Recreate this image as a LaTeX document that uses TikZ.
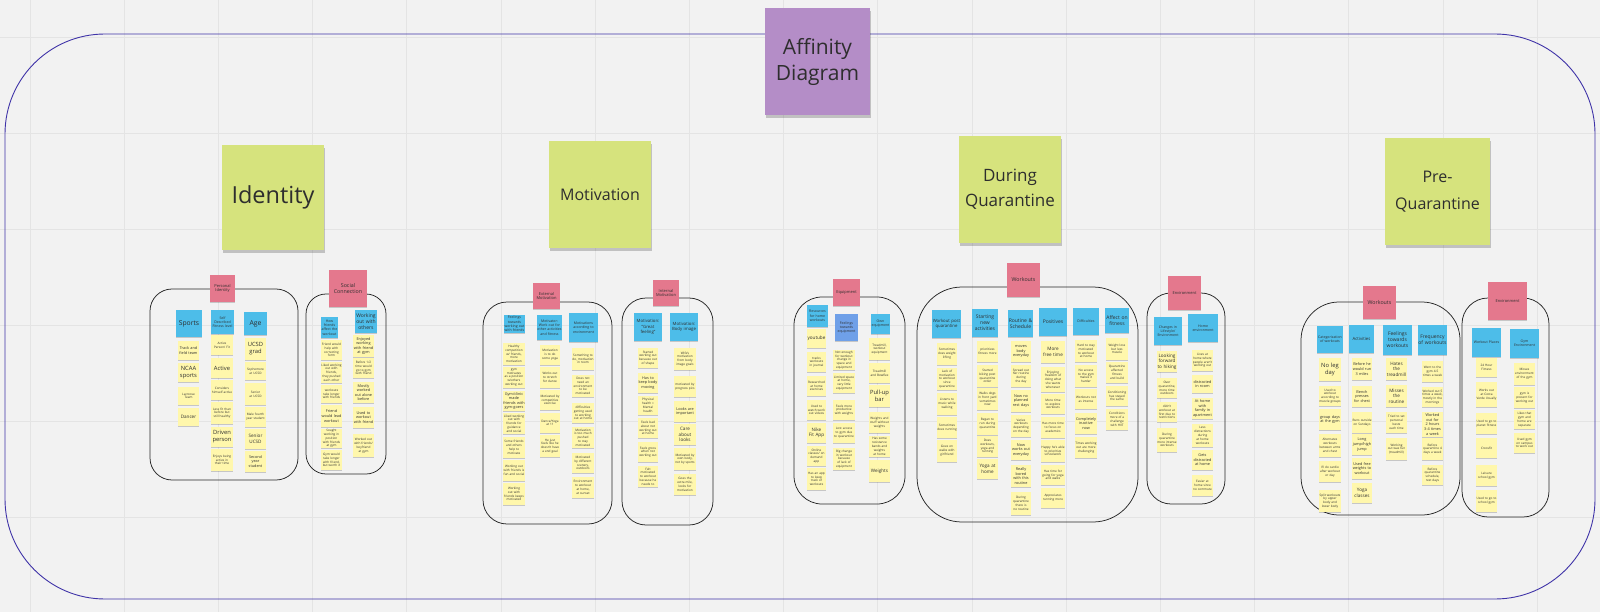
\documentclass[tikz,border=0pt]{standalone}
\usepackage{fontspec}
\setmainfont{Open Sans}
\usetikzlibrary{shadows}
\definecolor{bgc}{HTML}{F2F2F2}
\definecolor{gridc}{HTML}{E4E4E4}
\definecolor{framec}{HTML}{3F33A8}
\definecolor{yelc}{HTML}{FFF7AC}
\definecolor{bluc}{HTML}{4DBDE9}
\definecolor{vioc}{HTML}{6FA0E8}
\definecolor{pnkc}{HTML}{E4788D}
\definecolor{limc}{HTML}{D6E37D}
\definecolor{purc}{HTML}{B48DC7}
\definecolor{inkc}{HTML}{2E2E2E}
\tikzset{
  stick/.style={inner sep=0.3pt, align=center, text=inkc,
    execute at begin node={\hyphenpenalty=10000\exhyphenpenalty=10000},
    drop shadow={shadow xshift=0.2pt, shadow yshift=-1.1pt, opacity=0.18, fill=black}},
  yn/.style={stick, fill=yelc, font=\fontsize{3.1}{3.8}\selectfont},
  ys/.style={stick, fill=yelc, font=\fontsize{3.8}{4.6}\selectfont},
  ym/.style={stick, fill=yelc, font=\fontsize{4.6}{5.5}\selectfont},
  yb/.style={stick, fill=yelc, font=\fontsize{5.8}{6.9}\selectfont},
  bn/.style={stick, fill=bluc, font=\fontsize{3.5}{4.3}\selectfont},
  bs/.style={stick, fill=bluc, font=\fontsize{4.3}{5.2}\selectfont},
  bm/.style={stick, fill=bluc, font=\fontsize{5}{6}\selectfont},
  bb/.style={stick, fill=bluc, font=\fontsize{6.8}{8}\selectfont},
  pn/.style={stick, fill=pnkc, font=\fontsize{4}{4.9}\selectfont},
  pm/.style={stick, fill=pnkc, font=\fontsize{5.3}{6.4}\selectfont},
  topic/.style={inner sep=0pt, align=center, text=inkc, fill=limc,
    drop shadow={shadow xshift=0.5pt, shadow yshift=-3pt, opacity=0.2, fill=black}},
  grp/.style={draw=black!85, line width=0.75pt},
  gridline/.style={draw=gridc, line width=0.8pt},
}
\newcommand{\stk}[7][yn]{%
  \pgfmathsetmacro\stkW{#5-#3}%
  \pgfmathsetmacro\stkH{#6-#4}%
  \pgfmathsetmacro\stkX{(#3+#5)/2}%
  \pgfmathsetmacro\stkY{(#4+#6)/2}%
  \pgfmathsetmacro\stkT{#5-#3-0.6}%
  \node[#1, minimum width=\stkW pt, minimum height=\stkH pt, text width=\stkT pt] (#2) at (\stkX,\stkY) {#7};%
}
\begin{document}
\begin{tikzpicture}[x=1pt,y=-1pt]
\useasboundingbox (0,0) rectangle (1600,612);
\fill[bgc] (0,0) rectangle (1600,612);
% grid
\foreach \gx in {30,124.2,...,1600} \draw[gridline] (\gx,0) -- (\gx,612);
\foreach \gy in {37,133,...,612} \draw[gridline] (0,\gy) -- (1600,\gy);
% big frame
\draw[framec, line width=0.9pt, rounded corners=100pt] (5,34) rectangle (1595,599);

% group frames
\draw[grp, rounded corners=22pt] (150,289) rectangle (298,480);
\draw[grp, rounded corners=20pt] (306,294) rectangle (386,474);
\draw[grp, rounded corners=24pt] (483,302) rectangle (612,524);
\draw[grp, rounded corners=24pt] (622,298) rectangle (713,525);
\draw[grp, rounded corners=28pt] (794,297) rectangle (905,504);
\draw[grp, rounded corners=45pt] (917,287) rectangle (1138,522);
\draw[grp, rounded corners=24pt] (1147,293) rectangle (1225,504);
\draw[grp, rounded corners=38pt] (1301,302) rectangle (1460,515);
\draw[grp, rounded corners=26pt] (1462,298) rectangle (1549,517);

% title and topics
\node[topic, fill=purc, minimum width=105pt, minimum height=107pt, font=\fontsize{21}{26}\selectfont] (ad) at (817.5,61.5) {Affinity\\Diagram};
\node[topic, minimum width=102pt, minimum height=105pt, font=\fontsize{23.5}{28}\selectfont] (idt) at (273,197.5) {Identity};
\node[topic, minimum width=102pt, minimum height=107pt, font=\fontsize{16}{20}\selectfont] (mot) at (600,194.5) {Motivation};
\node[topic, minimum width=102pt, minimum height=107pt, font=\fontsize{17}{25}\selectfont] (dq) at (1010,189.5) {During\\Quarantine};
\node[topic, minimum width=105pt, minimum height=107pt, font=\fontsize{16}{27}\selectfont] (pq) at (1437.5,191.5) {Pre-\\Quarantine};

% ---------- Personal Identity ----------
\stk[pn]{pi}{210}{275}{235}{302}{Personal Identity}
\stk[bb]{sports}{176}{310}{202}{337}{Sports}
\stk[bn]{sdf}{211}{310}{234}{334}{Self Described Fitness level}
\stk[bb]{age}{244}{312}{267}{335}{Age}
\stk[ys]{sp1}{178}{341}{199}{360}{Track and field team}
\stk[yb]{sp2}{178}{363}{199}{382}{NCAA sports}
\stk[yn]{sp3}{178}{387}{199}{405}{Lacrosse Team}
\stk[ym]{sp4}{178}{408}{199}{426}{Dancer}
\stk[yn]{sd1}{211}{335}{233}{355}{Active Person/ Fit}
\stk[yb]{sd2}{211}{358}{233}{378}{Active}
\stk[yn]{sd3}{211}{380}{233}{400}{Considers himself active}
\stk[yn]{sd4}{211}{402}{233}{424}{Less fit than before but still healthy}
\stk[yb]{sd5}{211}{427}{233}{447}{Driven person}
\stk[yn]{sd6}{211}{449}{233}{471}{Enjoys being active in their time}
\stk[yb]{ag1}{245}{338}{266}{360}{UCSD grad}
\stk[yn]{ag2}{245}{362}{266}{380}{Sophomore at UCSD}
\stk[yn]{ag3}{245}{383}{266}{405}{Senior at UCSD}
\stk[yn]{ag4}{245}{407}{266}{427}{Male fourth year student}
\stk[ym]{ag5}{245}{429}{266}{449}{Senior UCSD}
\stk[ys]{ag6}{245}{451}{266}{472}{Second year student}

% ---------- Social Connection ----------
\stk[pm]{sc}{329}{270}{367}{307}{Social\\Connection}
\stk[bn]{hf}{321}{317}{338}{338}{How friends affect the workout}
\stk[bm]{wo}{355}{310}{377}{333}{Working out with others}
\stk[yn]{hf1}{321}{340}{342}{360}{Friend would help with correcting form}
\stk[yn]{hf2}{321}{362}{342}{383}{Liked working out with friends, they pushed each other}
\stk[yn]{hf3}{321}{385}{342}{403}{workouts take longer with friends}
\stk[ys]{hf4}{321}{405}{342}{427}{Friend would lead workout}
\stk[yn]{hf5}{321}{429}{342}{448}{Sought working in position with friends at gym}
\stk[yn]{hf6}{321}{450}{342}{470}{Gym would take longer with friend, but worth it}
\stk[ys]{wo1}{353}{335}{374}{357}{Enjoyed working with friend at gym}
\stk[yn]{wo2}{353}{358}{374}{378}{Before 1/2 time would go to gym with friend}
\stk[ys]{wo3}{353}{382}{374}{403}{Mostly worked out alone before}
\stk[ys]{wo4}{353}{407}{374}{428}{Used to workout with friend}
\stk[yn]{wo5}{353}{434}{374}{457}{Worked out with friends/ boyfriend at gym}

% ---------- External Motivation ----------
\stk[pn]{em}{533}{283}{560}{309}{External Motivation}
\stk[bn]{ft}{504}{315}{525}{333}{Feelings towards working out with friends}
\stk[bn]{mw}{537}{315}{562}{340}{Motivator: Work out for other activities and fitness}
\stk[bn]{ma}{569}{313}{598}{342}{Motivations according to environment}
\stk[yn]{ft1}{503}{343}{525}{365}{Healthy competition w/ friends, more motivation}
\stk[yn]{ft2}{503}{367}{525}{388}{gym motivates as a position w/others working out}
\stk[ys]{ft3}{503}{391}{525}{411}{Gym/clinic made friends with gym-goers}
\stk[yn]{ft4}{503}{413}{525}{434}{Liked working out with friends for guidance and social}
\stk[yn]{ft5}{503}{437}{525}{458}{Some friends and others help to motivate}
\stk[yn]{ft6}{503}{460}{525}{481}{Working out with friends is fun and social}
\stk[yn]{ft7}{503}{483}{525}{505}{Working out with friends keeps motivated}
\stk[yn]{mw1}{540}{345}{560}{365}{Motivation is to do some yoga}
\stk[yn]{mw2}{540}{367}{560}{388}{Works out to stretch for dance}
\stk[yn]{mw3}{540}{390}{560}{410}{Motivated by competitive exercise}
\stk[yn]{mw4}{540}{413}{560}{433}{Dance/Yoga at 11}
\stk[yn]{mw5}{540}{435}{560}{457}{He just feels like he doesn't have a end goal}
\stk[yn]{ma1}{572}{348}{594}{370}{Something to do, motivation in room}
\stk[yn]{ma2}{572}{375}{594}{397}{Does not need an environment to be motivated}
\stk[yn]{ma3}{572}{403}{594}{423}{difficulties getting used to working out at home}
\stk[yn]{ma4}{572}{427}{594}{448}{Motivation is too much pushed to stay motivated}
\stk[yn]{ma5}{572}{453}{594}{473}{Motivated by different scenery, outdoors}
\stk[yn]{ma6}{572}{477}{594}{498}{Environment to workout at home, at sunset}

% ---------- Internal Motivation ----------
\stk[pn]{im}{653}{280}{679}{306}{Internal Motivation}
\stk[bs]{mg}{634}{313}{662}{341}{Motivation: ``Great feeling''}
\stk[bs]{mb}{670}{313}{698}{341}{Motivation: Body image}
\stk[yn]{mg1}{638}{348}{658}{368}{Started working out because out of shape}
\stk[ys]{mg2}{638}{373}{658}{393}{Has to keep body moving}
\stk[yn]{mg3}{638}{396}{658}{415}{Physical health = Mental health}
\stk[yn]{mg4}{638}{418}{658}{438}{Feels bad about not working out at home}
\stk[yn]{mg5}{638}{442}{658}{462}{Feels gross when not working out}
\stk[yn]{mg6}{638}{466}{658}{487}{Felt motivated to workout because he needs to}
\stk[yn]{mb1}{674}{348}{696}{370}{Wife's motivation from body image goals}
\stk[yn]{mb2}{674}{376}{696}{397}{motivated by progress pics}
\stk[ys]{mb3}{674}{401}{696}{422}{Looks are important}
\stk[ym]{mb4}{674}{424}{696}{445}{Care about looks}
\stk[yn]{mb5}{674}{448}{696}{470}{Motivated by own body, not by sports}
\stk[yn]{mb6}{674}{474}{696}{495}{Goes the extra mile, looks for motivation}

% ---------- Equipment ----------
\stk[pn]{eq}{833}{279}{860}{306}{Equipment}
\stk[bn]{rh}{807}{305}{828}{327}{Resources for home workouts}
\node[stick, fill=vioc, minimum width=23pt, minimum height=27pt, text width=22.4pt, font=\fontsize{3.5}{4.3}\selectfont] (fe) at (846.5,327.5) {Feelings towards equipment};
\stk[bn]{oe}{871}{314}{890}{334}{Own equipment}
\stk[ym]{rh1}{807}{329}{826}{348}{youtube}
\stk[yn]{rh2}{807}{352}{826}{372}{tracks workouts in journal}
\stk[yn]{rh3}{807}{376}{826}{396}{Researched at home exercises}
\stk[yn]{rh4}{807}{400}{826}{420}{Used to watch work out videos}
\stk[ym]{rh5}{807}{423}{826}{443}{Nike Fit App}
\stk[yn]{rh6}{807}{446}{826}{466}{Online classes/ on demand app}
\stk[yn]{rh7}{807}{468}{826}{490}{Has an app to keep track of workouts}
\stk[yn]{fe1}{833}{350}{855}{370}{Not enough for workout change in space and equipment}
\stk[yn]{fe2}{833}{373}{855}{393}{Limited space at home, very little equipment}
\stk[yn]{fe3}{833}{400}{855}{420}{Feels more productive with weights}
\stk[yn]{fe4}{833}{423}{855}{443}{Lost access to gym due to quarantine}
\stk[yn]{fe5}{833}{448}{855}{470}{Big change in workout because of lack of equipment}
\stk[yn]{oe1}{869}{338}{890}{360}{Treadmill, workout equipment}
\stk[yn]{oe2}{869}{363}{890}{383}{Treadmill and Bowflex}
\stk[yb]{oe3}{869}{385}{890}{407}{Pull-up bar}
\stk[yn]{oe4}{869}{412}{890}{433}{Weights and stuff without weights}
\stk[yn]{oe5}{869}{436}{890}{457}{Has some resistance bands and weights at home}
\stk[ym]{oe6}{869}{460}{890}{482}{Weights}

% ---------- Workouts (During) ----------
\stk[pm]{wd}{1007}{263}{1040}{297}{Workouts}
\stk[bs]{wpq}{932}{310}{961}{338}{Workout post quarantine}
\stk[bm]{sna}{972}{309}{998}{337}{Starting new activities}
\stk[bm]{rs}{1008}{310}{1033}{337}{Routine \& Schedule}
\stk[bm]{pos}{1039}{308}{1067}{336}{Positives}
\stk[bn]{dif}{1073}{308}{1099}{335}{Difficulties}
\stk[bm]{aff}{1105}{308}{1129}{333}{Affect on fitness}
\stk[yn]{wq1}{937}{343}{957}{365}{Sometimes does weight lifting}
\stk[yn]{wq2}{937}{368}{957}{390}{Lack of motivation to workout since quarantine}
\stk[yn]{wq3}{937}{393}{957}{415}{Listens to music while walking}
\stk[yn]{wq4}{937}{417}{957}{438}{Sometimes does running}
\stk[yn]{wq5}{937}{440}{957}{462}{Goes on walks with girlfriend}
\stk[yn]{sn1}{977}{341}{998}{362}{prioritizes fitness more}
\stk[yn]{sn2}{977}{365}{998}{387}{Started biking post quarantine order}
\stk[yn]{sn3}{977}{388}{998}{410}{Walks dogs in front yard sometimes now}
\stk[yn]{sn4}{977}{413}{998}{435}{Began to run during quarantine}
\stk[yn]{sn5}{977}{436}{998}{457}{Does workouts, yoga and running}
\stk[ym]{sn6}{977}{459}{998}{479}{Yoga at home}
\stk[ys]{rs1}{1011}{341}{1031}{362}{moves body everyday}
\stk[yn]{rs2}{1011}{365}{1031}{387}{Spread out her routine during the day}
\stk[ys]{rs3}{1011}{390}{1031}{412}{Now no planned rest days}
\stk[yn]{rs4}{1011}{415}{1031}{437}{Varies workouts depending on the day}
\stk[ys]{rs5}{1011}{440}{1031}{460}{Now works out everyday}
\stk[ys]{rs6}{1011}{465}{1031}{487}{Really bored with this routine}
\stk[yn]{rs7}{1011}{492}{1031}{515}{During quarantine there is no routine}
\stk[ym]{po1}{1041}{341}{1065}{363}{More free time}
\stk[yn]{po2}{1041}{367}{1065}{392}{Enjoying freedom of doing what she wants whenever}
\stk[yn]{po3}{1041}{394}{1065}{414}{More time to explore workouts}
\stk[yn]{po4}{1041}{417}{1065}{438}{Has more time to focus on academics}
\stk[yn]{po5}{1041}{440}{1065}{462}{Happy he's able to prioritize schoolwork}
\stk[yn]{po6}{1041}{465}{1065}{485}{Has time for going for yoga and walks}
\stk[yn]{po7}{1041}{488}{1065}{508}{Appreciates running more}
\stk[yn]{di1}{1075}{340}{1097}{362}{Hard to stay motivated to workout at home}
\stk[yn]{di2}{1075}{365}{1097}{387}{No access to the gym makes it harder}
\stk[yn]{di3}{1075}{389}{1097}{409}{Workouts not as intense}
\stk[ys]{di4}{1075}{413}{1097}{434}{Completely inactive now}
\stk[yn]{di5}{1075}{437}{1097}{458}{Times working out are more challenging}
\stk[yn]{af1}{1106}{338}{1128}{360}{Weight loss but less muscle}
\stk[yn]{af2}{1106}{362}{1128}{383}{Quarantine affected fitness and build}
\stk[yn]{af3}{1106}{386}{1128}{406}{Conditioning has stayed the same}
\stk[yn]{af4}{1106}{409}{1128}{430}{Conditions more of a challenge with HIIT}

% ---------- Environment (During) ----------
\stk[pn]{ed}{1168}{276}{1201}{310}{Environment}
\stk[bn]{cl}{1154}{317}{1182}{345}{Changes in Lifestyle/ Environment}
\stk[bn]{hen}{1188}{314}{1218}{342}{Home environment}
\stk[ym]{cl1}{1157}{351}{1177}{372}{Looking forward to hiking}
\stk[yn]{cl2}{1157}{378}{1177}{398}{Over quarantine, more time outdoors}
\stk[yn]{cl3}{1157}{402}{1177}{422}{didn't workout at first due to restrictions}
\stk[yn]{cl4}{1157}{428}{1177}{452}{During quarantine more intense workouts}
\stk[yn]{he1}{1192}{350}{1213}{371}{Lives at home where people aren't working out}
\stk[ys]{he2}{1192}{375}{1213}{393}{distracted in room}
\stk[ys]{he3}{1192}{398}{1213}{419}{At home with family in apartment}
\stk[yn]{he4}{1192}{424}{1213}{447}{Less distractions during at home workouts}
\stk[ys]{he5}{1192}{450}{1213}{470}{Gets distracted at home}
\stk[yn]{he6}{1192}{475}{1213}{496}{Easier at home since no commute}

% ---------- Workouts (Pre) ----------
\stk[pm]{wpre}{1363}{286}{1396}{319}{Workouts}
\stk[bn]{cw}{1317}{326}{1343}{353}{Categorization of workouts}
\stk[bs]{act}{1349}{325}{1374}{353}{Activities}
\stk[bm]{fw}{1383}{325}{1412}{355}{Feelings towards workouts}
\stk[bm]{fq}{1418}{325}{1447}{355}{Frequency of workouts}
\stk[yb]{cw1}{1319}{358}{1341}{381}{No leg day}
\stk[yn]{cw2}{1319}{386}{1341}{406}{Used to workout according to muscle groups}
\stk[ys]{cw3}{1319}{409}{1341}{430}{group days at the gym}
\stk[yn]{cw4}{1319}{434}{1341}{457}{Alternates workouts between arms and chest}
\stk[yn]{cw5}{1319}{461}{1341}{482}{I'll do cardio after workout or day}
\stk[yn]{cw6}{1319}{490}{1341}{512}{Split workouts by upper body and lower body}
\stk[ys]{ac1}{1352}{358}{1372}{380}{Before he would run 3 miles}
\stk[ys]{ac2}{1352}{386}{1372}{407}{Bench presses for chest}
\stk[yn]{ac3}{1352}{412}{1372}{433}{Runs outside on Sundays}
\stk[ys]{ac4}{1352}{434}{1372}{455}{Long jump/high jump}
\stk[ys]{ac5}{1352}{458}{1372}{479}{Used free weights to workout}
\stk[ym]{ac6}{1352}{483}{1372}{503}{Yoga classes}
\stk[ym]{fw1}{1386}{358}{1407}{380}{Hates the treadmill}
\stk[ym]{fw2}{1386}{385}{1407}{407}{Misses the routine}
\stk[yn]{fw3}{1386}{412}{1407}{433}{Tried to set personal bests each time}
\stk[yn]{fw4}{1386}{438}{1407}{460}{Working out was fun (treadmill)}
\stk[yn]{fq1}{1422}{361}{1443}{382}{Went to the gym 4-5 times a week}
\stk[yn]{fq2}{1422}{387}{1443}{407}{Worked out 5 times a week, mostly in the mornings}
\stk[ys]{fq3}{1422}{412}{1443}{437}{Worked out for 2 hours 3-4 times a week}
\stk[yn]{fq4}{1422}{438}{1443}{460}{Before quarantine 4 days a week}
\stk[yn]{fq5}{1422}{465}{1443}{485}{Before quarantine schedule, rest days}

% ---------- Environment (Pre) ----------
\stk[pn]{epre}{1488}{282}{1527}{320}{Environment}
\stk[bn]{wpl}{1472}{328}{1501}{357}{Workout Places}
\stk[bn]{gen}{1510}{329}{1539}{358}{Gym Environment}
\stk[yn]{wl1}{1476}{358}{1497}{377}{24 Hour Fitness}
\stk[yn]{wl2}{1476}{382}{1497}{407}{Works out at Costa Verde Usually}
\stk[yn]{wl3}{1476}{413}{1497}{434}{Used to go to planet fitness}
\stk[yn]{wl4}{1476}{438}{1497}{458}{Crossfit}
\stk[yn]{wl5}{1476}{465}{1497}{486}{Leisure school gym}
\stk[yn]{wl6}{1476}{490}{1497}{512}{Used to go to school gym}
\stk[yn]{ge1}{1514}{363}{1535}{385}{Misses environment of the gym}
\stk[yn]{ge2}{1514}{387}{1535}{408}{gym is present for working out}
\stk[yn]{ge3}{1514}{410}{1535}{429}{Likes that gym and home are separate}
\stk[yn]{ge4}{1514}{433}{1535}{453}{Used gym on campus to work out}
\end{tikzpicture}
\end{document}
